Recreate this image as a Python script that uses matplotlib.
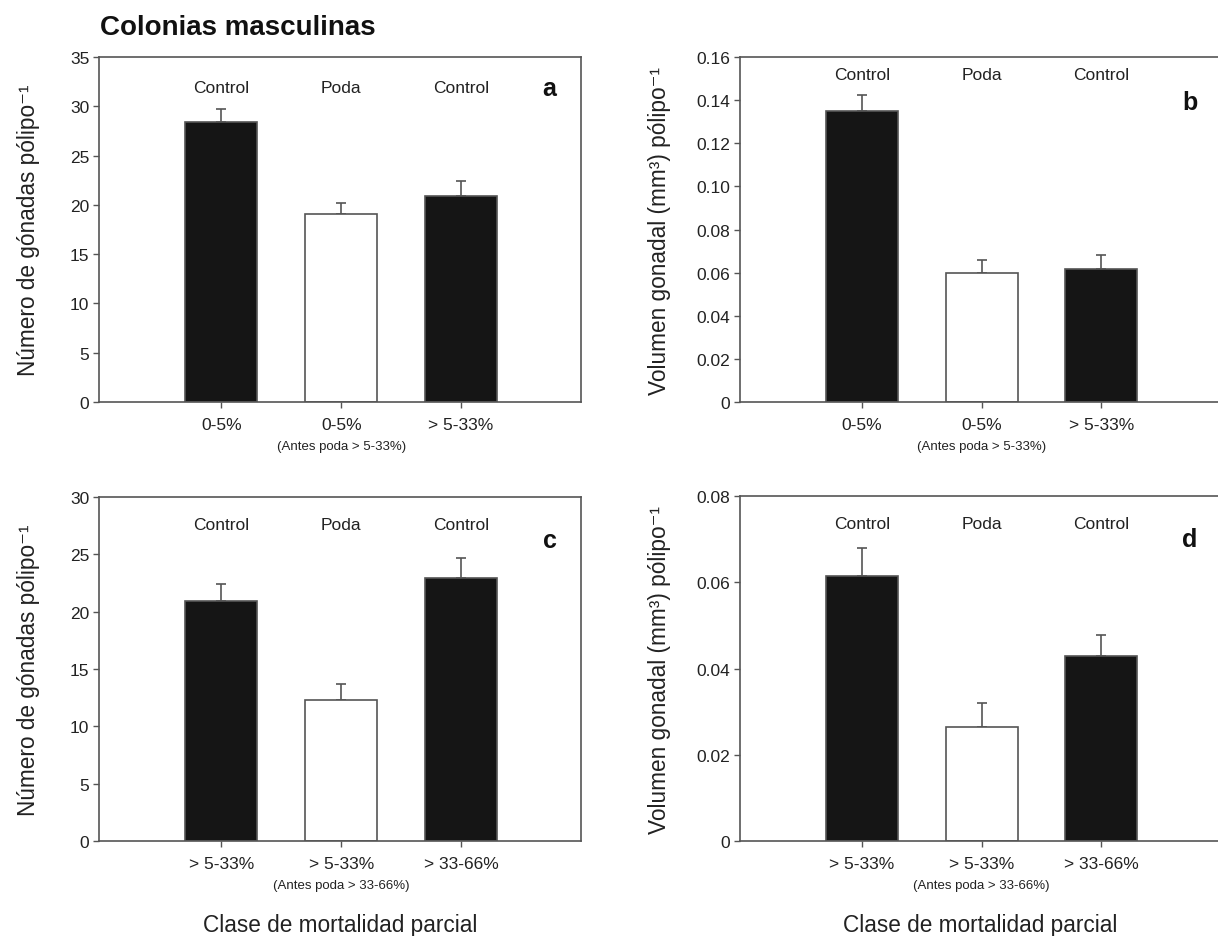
import matplotlib
matplotlib.use("Agg")
import matplotlib.pyplot as plt
import numpy as np

plt.rcParams['font.family'] = ['Liberation Sans', 'DejaVu Sans']

# Treatment labels above the bars
treatments = ["Control", "Poda", "Control"]
is_pruned = [False, True, False]

# Mortality classes (x tick labels) and the note under the middle bar
classes_top = ["0-5%", "0-5%", "> 5-33%"]
note_top = "(Antes poda > 5-33%)"
classes_bottom = ["> 5-33%", "> 5-33%", "> 33-66%"]
note_bottom = "(Antes poda > 33-66%)"

# Gonad number per polyp (mean, standard error)
gonads_top = [28.4, 19.1, 20.9]
gonads_top_err = [1.3, 1.1, 1.5]
gonads_bottom = [20.9, 12.3, 22.9]
gonads_bottom_err = [1.5, 1.4, 1.8]

# Gonadal volume per polyp (mean, standard error)
volume_top = [0.135, 0.060, 0.0615]
volume_top_err = [0.0075, 0.0057, 0.0065]
volume_bottom = [0.0615, 0.0265, 0.043]
volume_bottom_err = [0.0065, 0.0055, 0.0048]

W, H = 1218, 937
fig = plt.figure(figsize=(W / 100, H / 100), dpi=100)

def box(x0, y0, x1, y1):
    return [x0 / W, 1 - y1 / H, (x1 - x0) / W, (y1 - y0) / H]

ax_a = fig.add_axes(box(99, 58, 581, 403))
ax_b = fig.add_axes(box(740, 58, 1221, 403))
ax_c = fig.add_axes(box(99, 498, 581, 842))
ax_d = fig.add_axes(box(740, 497, 1221, 842))

spine_col = "#555555"
bar_col = "#151515"
text_col = "#222222"

LBL_GONADS = "Número de gónadas pólipo⁻¹"
LBL_VOLUME = "Volumen gonadal (mm³) pólipo⁻¹"


def panel(ax, vals, errs, classes, note, ymax, yticks, yfmt, letter, ylabel, ylabel_x,
          letter_y, treat_y, xlabel=False):
    x = np.arange(len(vals))
    colors = ["white" if p else bar_col for p in is_pruned]
    ax.bar(x, vals, width=0.6, color=colors, edgecolor=spine_col, linewidth=1.2, zorder=2)
    lower = np.zeros(len(errs))
    ax.errorbar(x, vals, yerr=[lower, errs], fmt="none", ecolor=spine_col,
                elinewidth=1.2, capsize=3.6, capthick=1.2, zorder=1)
    ax.set_xlim(-1.02, 3.0)
    ax.set_ylim(0, ymax)
    ax.set_yticks(yticks)
    ax.set_yticklabels([yfmt(v) for v in yticks])
    ax.set_xticks(x)
    ax.set_xticklabels(classes)
    for s in ax.spines.values():
        s.set_color(spine_col)
        s.set_linewidth(1.2)
    ax.tick_params(axis="both", direction="out", length=4, width=1.0, color=spine_col,
                   labelsize=12.5, labelcolor=text_col)
    ax.tick_params(axis="x", pad=7)
    ax.tick_params(axis="y", pad=3)
    for xi, t in zip(x, treatments):
        ax.text(xi, treat_y, t, transform=ax.get_xaxis_transform(), ha="center", va="center",
                fontsize=12.5, color=text_col)
    ax.text(0.935, letter_y, letter, transform=ax.transAxes, ha="center", va="center",
            fontsize=18, fontweight="bold", color="#111111")
    ax.text(1, -0.127, note, transform=ax.get_xaxis_transform(), ha="center", va="center",
            fontsize=9.5, color=text_col)
    ax.set_ylabel(ylabel, fontsize=16.3, color=text_col)
    ax.yaxis.set_label_coords(ylabel_x, 0.5)
    if xlabel:
        ax.set_xlabel("Clase de mortalidad parcial", fontsize=16.3, color=text_col)
        ax.xaxis.set_label_coords(0.5, -0.21)


int_fmt = lambda v: f"{v:g}"
dec_fmt = lambda v: "0" if v == 0 else f"{v:.2f}"

panel(ax_a, gonads_top, gonads_top_err, classes_top, note_top, 35, np.arange(0, 36, 5),
      int_fmt, "a", LBL_GONADS, -0.123, 0.91, 0.913)
panel(ax_b, volume_top, volume_top_err, classes_top, note_top, 0.16,
      np.round(np.arange(0, 0.161, 0.02), 2), dec_fmt, "b", LBL_VOLUME, -0.143, 0.87, 0.948)
panel(ax_c, gonads_bottom, gonads_bottom_err, classes_bottom, note_bottom, 30,
      np.arange(0, 31, 5), int_fmt, "c", LBL_GONADS, -0.123, 0.875, 0.92, xlabel=True)
panel(ax_d, volume_bottom, volume_bottom_err, classes_bottom, note_bottom, 0.08,
      np.round(np.arange(0, 0.081, 0.02), 2), dec_fmt, "d", LBL_VOLUME, -0.143, 0.875, 0.92,
      xlabel=True)

fig.text(100 / W, 1 - 28 / H, "Colonias masculinas", fontsize=20, fontweight="bold",
         ha="left", va="center", color="#111111")

fig.savefig("out.png", dpi=100, facecolor="white")
